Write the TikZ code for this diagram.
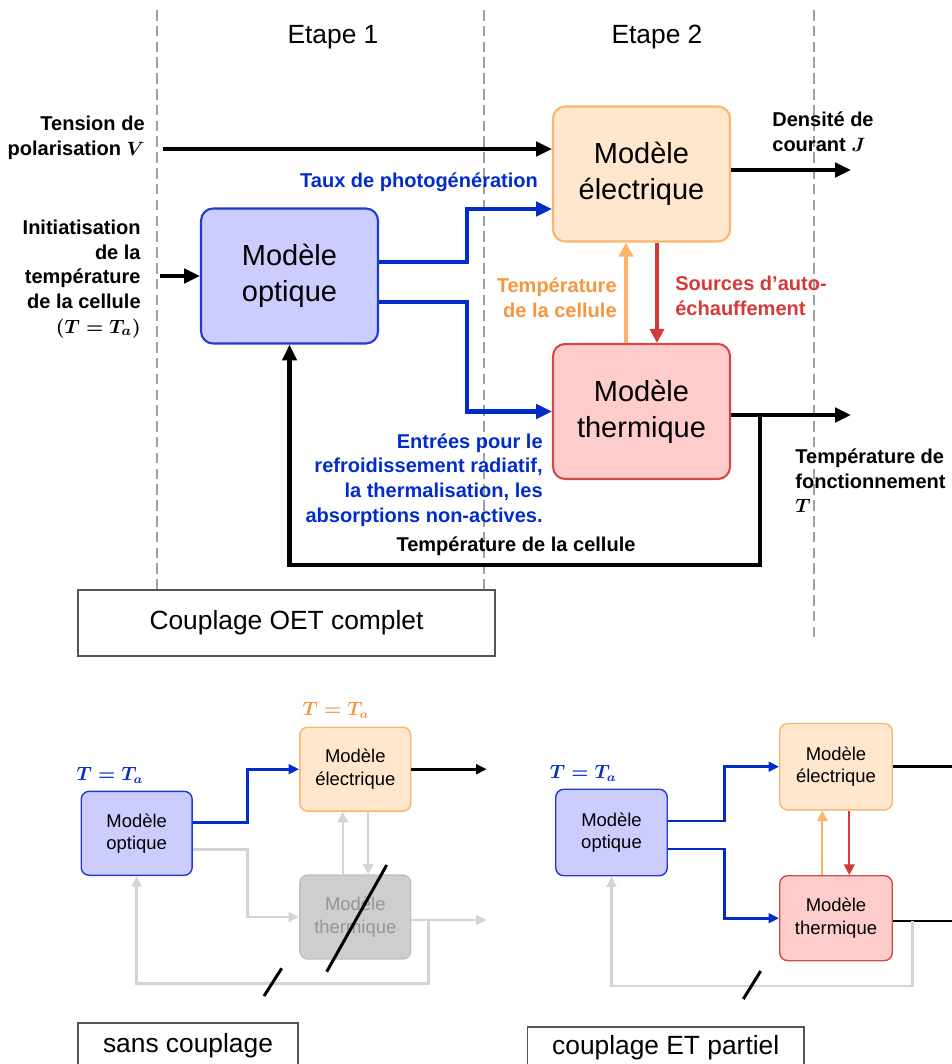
\documentclass[tikz,border=0pt]{standalone}
\usepackage{fontspec}
\setmainfont{Liberation Sans}
\usepackage{amsmath}
\usetikzlibrary{arrows.meta,calc,positioning}
\definecolor{optfill}{RGB}{204,204,255}
\definecolor{optline}{RGB}{30,60,210}
\definecolor{elecfill}{RGB}{255,230,204}
\definecolor{elecline}{RGB}{250,182,110}
\definecolor{thermfill}{RGB}{255,204,204}
\definecolor{thermline}{RGB}{212,74,74}
\definecolor{flowblue}{RGB}{0,45,200}
\definecolor{floworange}{RGB}{253,180,105}
\definecolor{textorange}{RGB}{247,150,65}
\definecolor{flowred}{RGB}{212,58,58}
\definecolor{fadegray}{RGB}{212,212,212}
\definecolor{offfill}{RGB}{207,205,205}
\definecolor{offline}{RGB}{192,192,192}
\definecolor{offtext}{RGB}{150,150,150}
\definecolor{framegray}{RGB}{85,85,85}
\definecolor{stepgray}{RGB}{160,160,160}
\newcommand{\mainboxfont}{\fontsize{16.5}{20.5}\selectfont}
\newcommand{\miniboxfont}{\fontsize{10.5}{12.7}\selectfont}
\newcommand{\flowfont}{\fontsize{11.4}{14}\selectfont\bfseries}
\newcommand{\framefont}{\fontsize{15}{18}\selectfont}
\newcommand{\boldeq}[1]{{\boldmath$#1$}}

\begin{document}
\begin{tikzpicture}[
    x=0.02cm, y=-0.02cm,
    bigbox/.style={rectangle, rounded corners=0.24cm, minimum width=3.54cm, minimum height=2.7cm, line width=1.2pt, align=center, inner sep=0pt, font=\mainboxfont},
    minibox/.style={rectangle, rounded corners=0.16cm, minimum width=2.22cm, minimum height=1.68cm, line width=0.8pt, align=center, inner sep=0pt, font=\miniboxfont},
    optbox/.style={fill=optfill, draw=optline},
    elecbox/.style={fill=elecfill, draw=elecline},
    thermbox/.style={fill=thermfill, draw=thermline},
    offbox/.style={fill=offfill, draw=offline, text=offtext},
    framebox/.style={rectangle, draw=framegray, line width=1.1pt, fill=white, inner sep=0pt, font=\framefont},
    flowlabel/.style={font=\flowfont, inner sep=0pt},
    mathlabel/.style={font=\fontsize{10.5}{12}\selectfont, inner sep=0pt},
    stepline/.style={draw=stepgray, line width=0.6pt, dash pattern=on 6pt off 3pt},
    bigarrow/.style={line width=2.5pt, -{Triangle[length=9pt,width=8pt]}},
    midarrow/.style={line width=2.2pt, -{Triangle[length=8pt,width=8pt]}},
    miniarrow/.style={line width=1.6pt, -{Triangle[length=6pt,width=5.5pt]}},
    thinarrow/.style={line width=1.3pt, -{Triangle[length=6pt,width=6pt]}},
    miniline/.style={line width=1.6pt},
    cutmark/.style={line width=1.7pt}
]
\useasboundingbox (0,0) rectangle (952,1064);
\clip (0,0) rectangle (952,1064);

\draw[stepline] (157,10) -- (157,590);
\draw[stepline] (484,10) -- (484,590);
\draw[stepline] (814,10) -- (814,640);
\node[font=\framefont] (etape1) at (333,37) {Etape 1};
\node[font=\framefont] (etape2) at (657,37) {Etape 2};

\node[bigbox, optbox] (opt) at (289.5,276) {Modèle\\optique};
\node[bigbox, elecbox] (elec) at (641.5,174) {Modèle\\électrique};
\node[bigbox, thermbox] (therm) at (641.5,411.5) {Modèle\\thermique};

\node[flowlabel, align=right, anchor=east] (vlabel) at (145,138) {Tension de\\polarisation \boldeq{V}};
\node[flowlabel, align=right, anchor=east] (tinit) at (141,279) {Initiatisation\\de la\\température\\de la cellule\\\boldeq{(T=T_a)}};
\coordinate (vin) at (163,149);
\coordinate (tin) at (160,276);
\draw[bigarrow] (vin) -- (vin -| elec.west);
\draw[bigarrow] (tin) -- (opt.west);

\draw[bigarrow, flowblue] ($(opt.east)+(0,-14)$) -- ++(88,0) |- ($(elec.west)+(0,35)$);
\draw[bigarrow, flowblue] ($(opt.east)+(0,26)$) -- ++(88,0) |- (therm.west);
\node[flowlabel, text=flowblue] (taux) at (419,182) {Taux de photogénération};
\node[flowlabel, text=flowblue, align=right, anchor=east] (entrees) at (543,480) {Entrées pour le\\refroidissement radiatif,\\la thermalisation, les\\absorptions non-actives.};

\draw[midarrow, floworange] ($(therm.north)+(-15.5,0)$) -- ($(elec.south)+(-15.5,0)$);
\draw[midarrow, flowred] ($(elec.south)+(15.5,0)$) -- ($(therm.north)+(15.5,0)$);
\node[flowlabel, text=textorange, align=right, anchor=east] (tcell) at (617,298) {Température\\de la cellule};
\node[flowlabel, text=flowred, align=left, anchor=west] (sources) at (675,296) {Sources d’auto-\\échauffement};

\coordinate (jout) at (851,170);
\draw[bigarrow] (elec.east |- jout) -- (jout);
\node[flowlabel, align=left, anchor=west] (jlabel) at (772,132) {Densité de\\courant \boldeq{J}};
\coordinate (tout) at (851,415);
\draw[bigarrow] (therm.east |- tout) -- (tout);
\node[flowlabel, align=left, anchor=west] (toplabel) at (795,481) {Température de\\fonctionnement\\\boldeq{T}};

\coordinate (tsplit) at (760,415);
\coordinate (fbcorner) at (760,565);
\draw[bigarrow] (tsplit) -- (fbcorner) -| (opt.south);
\node[flowlabel] (fblabel) at (516,546) {Température de la cellule};

\node[framebox, minimum width=8.34cm, minimum height=1.32cm] (full) at (286.5,623) {Couplage OET complet};

\node[minibox, optbox] (opt1) at (136.7,833.3) {Modèle\\optique};
\node[minibox, elecbox] (elec1) at (355.3,769.2) {Modèle\\électrique};
\node[minibox, offbox] (therm1) at (355.3,917) {Modèle\\thermique};
\node[mathlabel, text=flowblue] (ta1) at (110,775) {\boldeq{T=T_a}};
\node[mathlabel, text=textorange] (ta1e) at (336,710) {\boldeq{T=T_a}};
\draw[miniarrow, flowblue] ($(opt1.east)+(0,-10.6)$) -- ++(54.3,0) |- (elec1.west);
\draw[miniarrow, fadegray] ($(opt1.east)+(0,16)$) -- ++(54.3,0) |- (therm1.west);
\coordinate (e1out) at (486.7,769.2);
\draw[miniarrow] (elec1.east) -- (e1out);
\coordinate (t1out) at (486.7,920);
\draw[miniarrow, fadegray] (therm1.east |- t1out) -- (t1out);
\draw[thinarrow, fadegray] ($(therm1.north)+(-12.6,0)$) -- ($(elec1.south)+(-12.6,0)$);
\draw[thinarrow, fadegray] ($(elec1.south)+(13,0)$) -- ($(therm1.north)+(13,0)$);
\coordinate (t1split) at (428.3,920);
\coordinate (t1corner) at (428.3,983.3);
\draw[miniarrow, fadegray] (t1split) -- (t1corner) -| (opt1.south);
\draw[cutmark] (386.7,865) -- (326.7,971.7);
\draw[cutmark] (281.7,968.3) -- (264,996);
\node[framebox, minimum width=4.4cm, minimum height=0.92cm] (sans) at (188,1046) {sans couplage};

\node[minibox, optbox, minimum width=2.23cm, minimum height=1.73cm] (opt2) at (611.5,832.5) {Modèle\\optique};
\node[minibox, elecbox, minimum width=2.25cm, minimum height=1.73cm] (elec2) at (836,766.7) {Modèle\\électrique};
\node[minibox, thermbox, minimum width=2.25cm, minimum height=1.7cm] (therm2) at (836,918.2) {Modèle\\thermique};
\node[mathlabel, text=flowblue] (ta2) at (583.3,773) {\boldeq{T=T_a}};
\draw[miniarrow, flowblue] ($(opt2.east)+(0,-11.5)$) -- ++(56.7,0) |- (elec2.west);
\draw[miniarrow, flowblue] ($(opt2.east)+(0,16.5)$) -- ++(56.7,0) |- (therm2.west);
\draw[thinarrow, floworange] ($(therm2.north)+(-13.7,0)$) -- ($(elec2.south)+(-13.7,0)$);
\draw[thinarrow, flowred] ($(elec2.south)+(13.3,0)$) -- ($(therm2.north)+(13.3,0)$);
\coordinate (e2out) at (952,766.7);
\draw[miniline] (elec2.east) -- (e2out);
\coordinate (t2out) at (952,921);
\draw[miniline] (therm2.east |- t2out) -- (t2out);
\coordinate (t2split) at (912.7,921);
\coordinate (t2corner) at (912.7,986);
\draw[miniarrow, fadegray] (t2split) -- (t2corner) -| (opt2.south);
\draw[cutmark] (760.7,971) -- (743.3,999);
\node[framebox, minimum width=5.53cm, minimum height=0.83cm] (partiel) at (665.7,1048) {couplage ET partiel};

\end{tikzpicture}
\end{document}
